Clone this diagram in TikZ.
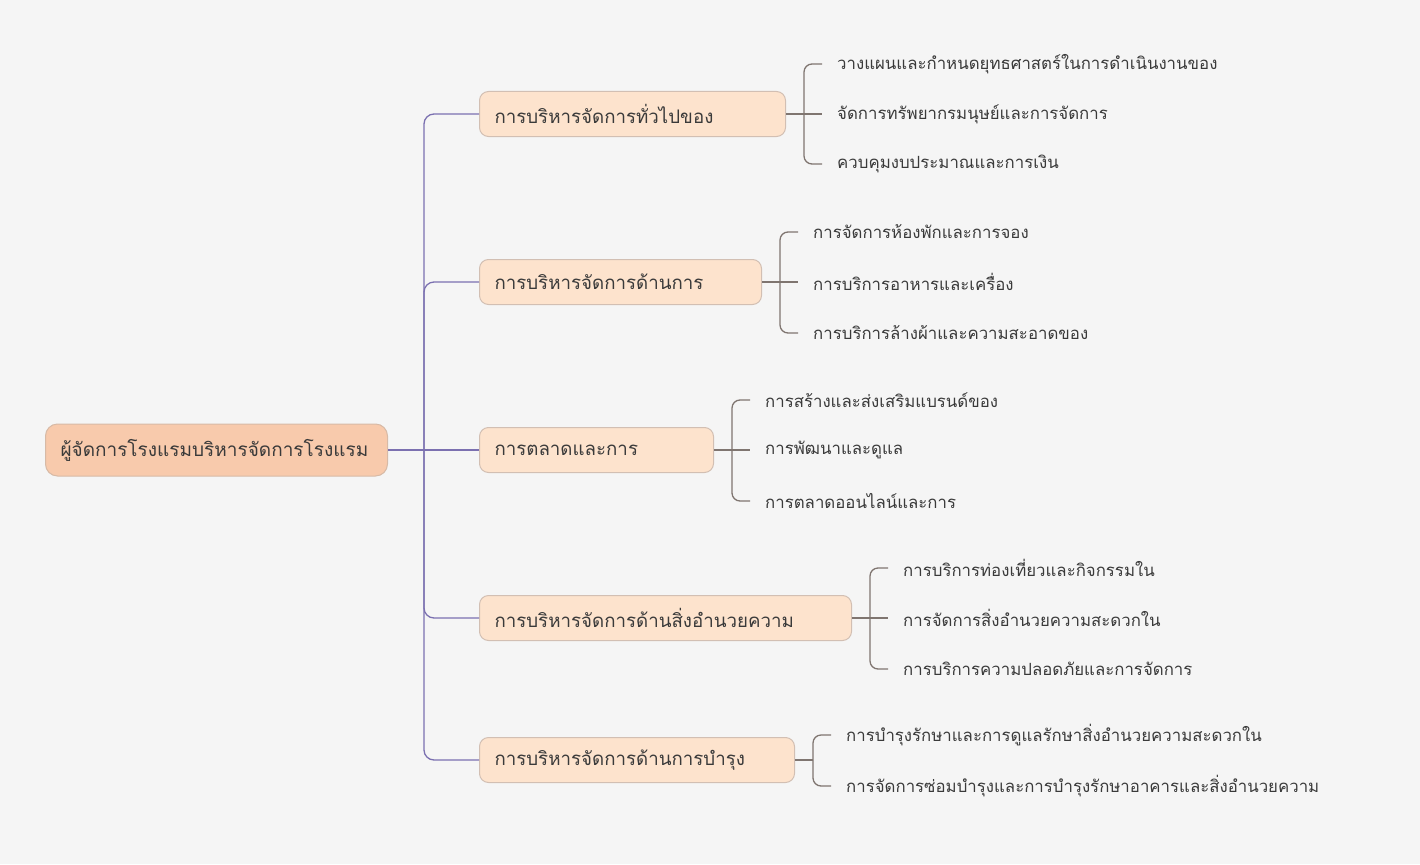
\documentclass[tikz,border=0pt]{standalone}
\usepackage{fontspec}
\newfontfamily\thaifont[Script=Thai]{Loma}
\usetikzlibrary{positioning}

\definecolor{bgcol}{HTML}{F5F5F5}
\definecolor{rootfill}{HTML}{F8CAAC}
\definecolor{rootedge}{HTML}{D7BAA6}
\definecolor{branchfill}{HTML}{FDE3CD}
\definecolor{branchedge}{HTML}{D2BFB3}
\definecolor{trunkcol}{HTML}{7B70B0}
\definecolor{twigcol}{HTML}{7F7570}
\definecolor{txtcol}{HTML}{3A3A3A}

\tikzset{
  rootbox/.style={draw=rootedge, fill=rootfill, rounded corners=12pt, line width=1pt,
    minimum height=52pt, inner xsep=15pt, inner ysep=0pt, text width=#1, align=left,
    anchor=west, text=txtcol, font=\thaifont\fontsize{19}{22}\selectfont},
  branchbox/.style={draw=branchedge, fill=branchfill, rounded corners=9pt, line width=1pt,
    minimum height=45pt, inner xsep=15pt, inner ysep=0pt, text width=#1, align=left,
    anchor=west, text=txtcol, font=\thaifont\fontsize{18.7}{22}\selectfont},
  leaf/.style={anchor=west, inner xsep=15pt, inner ysep=2pt, text=txtcol,
    font=\thaifont\fontsize{16.8}{20}\selectfont},
  trunk/.style={draw=trunkcol, line width=1.3pt, rounded corners=10pt},
  twig/.style={draw=twigcol, line width=1.3pt, rounded corners=8pt},
}

\begin{document}
\begin{tikzpicture}[x=1pt, y=-1pt]
  \fill[bgcol] (0,0) rectangle (1420,864);
  \useasboundingbox (0,0) rectangle (1420,864);

  % root and main branches
  \node[rootbox=312pt] (root) at (45,450) {ผู้จัดการโรงแรมบริหารจัดการโรงแรม};
  \node[branchbox=276pt] (b1) at (479,114) {การบริหารจัดการทั่วไปของ};
  \node[branchbox=252pt] (b2) at (479,282) {การบริหารจัดการด้านการ};
  \node[branchbox=204pt] (b3) at (479,450) {การตลาดและการ};
  \node[branchbox=342pt] (b4) at (479,618) {การบริหารจัดการด้านสิ่งอำนวยความ};
  \node[branchbox=285pt] (b5) at (479,760) {การบริหารจัดการด้านการบำรุง};

  \coordinate (j0) at (424,450);
  \draw[trunk] (root) -- (b3);
  \foreach \b in {b1, b2, b4, b5}
    \draw[trunk] (j0) |- (\b);

  % leaves
  \node[leaf] (l11) at (822,64) {วางแผนและกำหนดยุทธศาสตร์ในการดำเนินงานของ};
  \node[leaf] (l12) at (822,114) {จัดการทรัพยากรมนุษย์และการจัดการ};
  \node[leaf] (l13) at (822,164) {ควบคุมงบประมาณและการเงิน};

  \node[leaf] (l21) at (798,232) {การจัดการห้องพักและการจอง};
  \node[leaf] (l22) at (798,282) {การบริการอาหารและเครื่อง};
  \node[leaf] (l23) at (798,333) {การบริการล้างผ้าและความสะอาดของ};

  \node[leaf] (l31) at (750,400) {การสร้างและส่งเสริมแบรนด์ของ};
  \node[leaf] (l32) at (750,450) {การพัฒนาและดูแล};
  \node[leaf] (l33) at (750,501) {การตลาดออนไลน์และการ};

  \node[leaf] (l41) at (888,568) {การบริการท่องเที่ยวและกิจกรรมใน};
  \node[leaf] (l42) at (888,618) {การจัดการสิ่งอำนวยความสะดวกใน};
  \node[leaf] (l43) at (888,669) {การบริการความปลอดภัยและการจัดการ};

  \node[leaf] (l51) at (831,735) {การบำรุงรักษาและการดูแลรักษาสิ่งอำนวยความสะดวกใน};
  \node[leaf] (l52) at (831,786) {การจัดการซ่อมบำรุงและการบำรุงรักษาอาคารและสิ่งอำนวยความ};

  % brackets
  \coordinate (j1) at (804,114);
  \coordinate (j2) at (780,282);
  \coordinate (j3) at (732,450);
  \coordinate (j4) at (870,618);
  \coordinate (j5) at (813,760);

  \draw[twig] (b1) -- (l12);
  \draw[twig] (b2) -- (l22);
  \draw[twig] (b3) -- (l32);
  \draw[twig] (b4) -- (l42);
  \draw[twig] (b5) -- (j5);
  \foreach \j/\l in {j1/l11, j1/l13, j2/l21, j2/l23, j3/l31, j3/l33,
                     j4/l41, j4/l43, j5/l51, j5/l52}
    \draw[twig] (\j) |- (\l);
\end{tikzpicture}
\end{document}
